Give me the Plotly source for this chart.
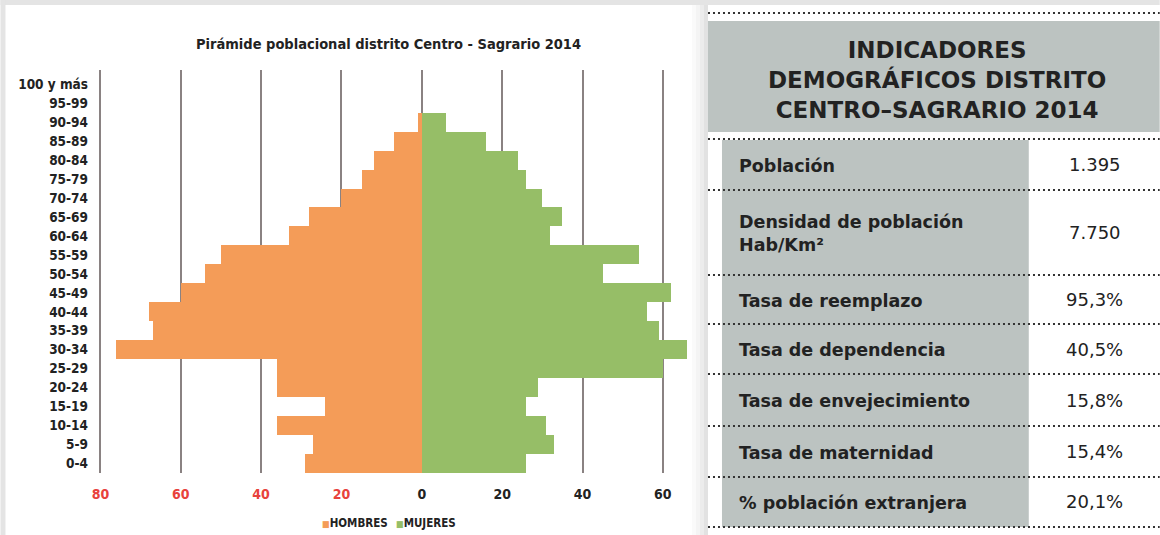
import plotly.graph_objects as go

# ---------------- data ----------------
age_groups = ["0-4", "5-9", "10-14", "15-19", "20-24", "25-29", "30-34", "35-39",
              "40-44", "45-49", "50-54", "55-59", "60-64", "65-69", "70-74",
              "75-79", "80-84", "85-89", "90-94", "95-99", "100 y más"]
hombres = [29, 27, 36, 24, 36, 36, 76, 67, 68, 60, 54, 50, 33, 28, 20, 15, 12, 7, 1, 0, 0]
mujeres = [26, 33, 31, 26, 29, 60, 66, 59, 56, 62, 45, 54, 32, 35, 30, 26, 24, 16, 6, 0, 0]

x_tickvals = [-80, -60, -40, -20, 0, 20, 40, 60]
x_ticklabels = ["80", "60", "40", "20", "0", "20", "40", "60"]

chart_title = "Pirámide poblacional distrito Centro - Sagrario 2014"
legend_names = ["HOMBRES", "MUJERES"]

table_title = "INDICADORES<br>DEMOGRÁFICOS DISTRITO<br>CENTRO–SAGRARIO 2014"
indicadores = ["Población", "Densidad de población<br>Hab/Km²", "Tasa de reemplazo",
               "Tasa de dependencia", "Tasa de envejecimiento", "Tasa de maternidad",
               "% población extranjera"]
valores = ["1.395", "7.750", "95,3%", "40,5%", "15,8%", "15,4%", "20,1%"]

# ---------------- style ----------------
W, H = 1160, 535
XMIN, XMAX = -80.6, 68
PL, PR, PT, PB = 97.6, 695, 70, 473   # plot area in pixels
ORANGE = "#F49C58"
GREEN = "#96BE67"
RED = "#E8423C"
GRAY_BOX = "#BCC3C1"
TXT = "#222222"
COND = "DejaVu Sans Condensed, Liberation Sans Narrow, Open Sans, sans-serif"
TFONT = "DejaVu Sans, Inter, sans-serif"


def px(x):
    return (x - PL) / (PR - PL)


def py(y):
    return (PB - y) / (PB - PT)


fig = go.Figure()
fig.add_trace(go.Bar(y=age_groups, x=[-v for v in hombres], orientation="h",
                     name=legend_names[0], marker=dict(color=ORANGE, line=dict(width=0)),
                     showlegend=False))
fig.add_trace(go.Bar(y=age_groups, x=mujeres, orientation="h",
                     name=legend_names[1], marker=dict(color=GREEN, line=dict(width=0)),
                     showlegend=False))

ticktext = []
for v, t in zip(x_tickvals, x_ticklabels):
    c = RED if v < 0 else TXT
    ticktext.append(f"<span style='color:{c}'><b>{t}</b></span>")

fig.update_layout(
    width=W, height=H,
    margin=dict(l=PL, r=W - PR, t=PT, b=H - PB, pad=0),
    paper_bgcolor="white", plot_bgcolor="white",
    barmode="relative", bargap=0,
    xaxis=dict(range=[XMIN, XMAX], tickvals=x_tickvals, ticktext=ticktext,
               showgrid=True, gridcolor="#8A8282", gridwidth=1.5,
               zeroline=False, showline=False, ticks="",
               tickfont=dict(family=COND, size=14, color=TXT),
               ticklabelstandoff=11, fixedrange=True),
    yaxis=dict(type="category", categoryorder="array", categoryarray=age_groups,
               range=[-0.5, 20.75], showgrid=False, zeroline=False, showline=False,
               ticks="", tickfont=dict(family=COND, size=13.5, color=TXT),
               ticklabelstandoff=9),
    font=dict(family=COND, color=TXT),
)
fig.update_yaxes(ticktext=[f"<b>{a}</b>" for a in age_groups], tickvals=age_groups)

shapes = []
annotations = []

# frame strips (scan border) and shadow
shapes.append(dict(type="rect", xref="paper", yref="paper", x0=px(0), x1=px(W), y0=py(0), y1=py(5),
                   fillcolor="#E4E4E4", line=dict(width=0), layer="below"))
shapes.append(dict(type="rect", xref="paper", yref="paper", x0=px(0), x1=px(5), y0=py(0), y1=py(H),
                   fillcolor="#E4E4E4", line=dict(width=0), layer="below"))
for i, col in enumerate(["#FAFAFA", "#F4F4F4", "#ECECEC", "#E2E2E2"]):
    x0 = 692 + i * 4
    shapes.append(dict(type="rect", xref="paper", yref="paper", x0=px(x0), x1=px(x0 + 4),
                       y0=py(5), y1=py(H), fillcolor=col, line=dict(width=0), layer="below"))

# chart title
annotations.append(dict(text=f"<b>{chart_title}</b>", xref="paper", yref="paper",
                        x=px(388), y=py(44), showarrow=False, xanchor="center", yanchor="middle",
                        font=dict(family=COND, size=14.5, color=TXT)))

# legend (as text markers)
annotations.append(dict(text=f"<span style='color:{ORANGE};font-size:9px'>■</span><b>{legend_names[0]}</b>",
                        xref="paper", yref="paper", x=px(320), y=py(523), showarrow=False,
                        xanchor="left", yanchor="middle", font=dict(family=COND, size=11.5, color=TXT)))
annotations.append(dict(text=f"<span style='color:{GREEN};font-size:9px'>■</span><b>{legend_names[1]}</b>",
                        xref="paper", yref="paper", x=px(394), y=py(523), showarrow=False,
                        xanchor="left", yanchor="middle", font=dict(family=COND, size=11.5, color=TXT)))

# ---------------- right table ----------------
shapes.append(dict(type="rect", xref="paper", yref="paper", x0=px(708), x1=px(W), y0=py(5), y1=py(H),
                   fillcolor="white", line=dict(width=0), layer="below"))
shapes.append(dict(type="rect", xref="paper", yref="paper", x0=px(708), x1=px(W), y0=py(21), y1=py(132),
                   fillcolor=GRAY_BOX, line=dict(width=0), layer="below"))
shapes.append(dict(type="rect", xref="paper", yref="paper", x0=px(722), x1=px(1029), y0=py(140), y1=py(527),
                   fillcolor=GRAY_BOX, line=dict(width=0), layer="below"))

line_ys = [13, 139, 190, 275, 324, 374, 426, 477, 527]
for ly in line_ys:
    shapes.append(dict(type="line", xref="paper", yref="paper", x0=px(708), x1=px(W), y0=py(ly), y1=py(ly),
                       line=dict(color="#333333", width=2, dash="2px,3px")))

annotations.append(dict(text=f"<b>{table_title}</b>", xref="paper", yref="paper",
                        x=px(937), y=py(80), showarrow=False, xanchor="center", yanchor="middle",
                        font=dict(family=TFONT, size=23, color=TXT)))

row_bounds = line_ys[1:]
for i, (lab, val) in enumerate(zip(indicadores, valores)):
    yc = (row_bounds[i] + row_bounds[i + 1]) / 2 + 1
    annotations.append(dict(text=f"<b>{lab}</b>", xref="paper", yref="paper", x=px(737), y=py(yc),
                            showarrow=False, xanchor="left", yanchor="middle", align="left",
                            font=dict(family=TFONT, size=17.5, color=TXT)))
    annotations.append(dict(text=val, xref="paper", yref="paper", x=px(1095), y=py(yc - 1),
                            showarrow=False, xanchor="center", yanchor="middle",
                            font=dict(family=TFONT, size=18, color=TXT)))

fig.update_layout(shapes=shapes, annotations=annotations)
fig.write_html("out.html", config={"displayModeBar": False},
               post_script="document.body.style.margin='0';document.body.style.overflow='hidden';")
